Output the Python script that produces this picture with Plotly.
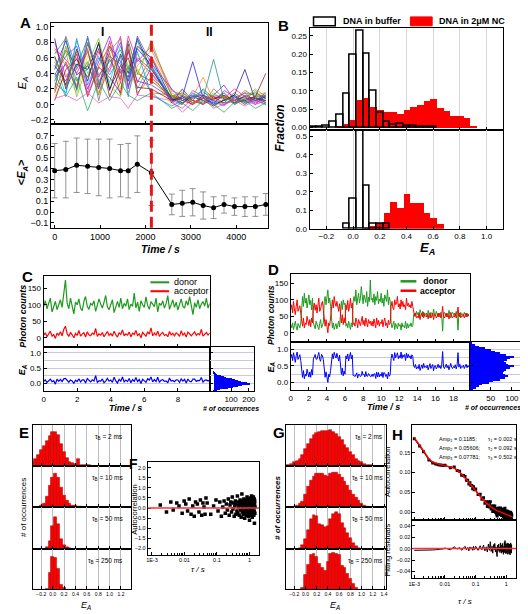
import numpy as np
import plotly.graph_objects as go

FONT = "Arial, Liberation Sans, sans-serif"
W, H = 528, 614

# ================= DATA =================
# ---- Panel A ----
A_TIME = [0, 245, 485, 725, 970, 1210, 1450, 1620, 1820, 2130,
          2580, 2810, 3040, 3270, 3500, 3730, 3960, 4190, 4420, 4650]
A_SWITCH_TIME = 2130
A_T01 = [0.62,0.25,0.71,0.30,0.80,0.18,0.65,0.40,0.85,0.45, 0.08,0.02,0.10,0.05,-0.02,0.06,0.12,0.03,0.08,0.05]
A_T02 = [0.15,0.55,0.22,0.78,0.35,0.66,0.12,0.70,0.28,0.62, 0.12,0.05,0.00,0.08,0.10,0.02,0.05,0.15,0.04,0.10]
A_T03 = [0.45,0.82,0.38,0.50,0.20,0.75,0.55,0.30,0.72,0.50, 0.05,0.10,0.55,0.08,0.02,0.12,0.00,0.07,0.10,0.02]
A_T04 = [0.80,0.35,0.60,0.15,0.68,0.42,0.88,0.22,0.58,0.40, 0.02,-0.05,0.08,0.12,0.04,-0.02,0.10,0.05,0.00,0.12]
A_T05 = [0.30,0.70,0.48,0.85,0.25,0.58,0.32,0.82,0.40,0.30, 0.10,0.15,0.05,0.20,0.08,0.12,0.05,0.10,0.15,0.08]
A_T06 = [0.55,0.12,0.82,0.40,0.62,0.28,0.75,0.50,0.20,0.55, 0.04,0.08,0.12,0.00,0.15,0.05,0.02,0.08,0.05,0.00]
A_T07 = [0.10,0.40,0.15,0.62,0.45,0.80,0.20,0.55,0.65,0.35, 0.00,0.12,0.03,0.10,-0.05,0.08,0.15,0.02,0.10,0.06]
A_T08 = [0.70,0.50,0.25,0.70,0.15,0.45,0.62,0.15,0.50,0.70, 0.15,0.05,0.10,0.35,0.05,0.10,0.08,0.00,0.12,0.15]
A_T09 = [0.38,0.62,0.75,0.20,0.55,0.88,0.40,0.68,0.30,0.25, 0.08,0.00,0.15,0.05,0.12,0.25,0.05,0.10,0.02,0.08]
A_T10 = [0.85,0.20,0.52,0.45,0.78,0.20,0.50,0.35,0.75,0.60, 0.06,0.10,0.02,0.08,0.00,0.05,0.12,0.45,0.05,0.10]
A_T11 = [0.22,0.75,0.30,0.55,0.12,0.68,0.85,0.25,0.45,0.15, 0.12,0.02,0.08,0.15,0.10,0.00,0.06,0.05,0.18,0.02]
A_T12 = [0.50,0.30,0.65,0.10,0.48,0.35,0.15,0.78,0.12,0.48, 0.02,0.20,0.05,0.00,0.08,0.10,0.02,0.12,0.05,0.12]
A_T13 = [0.65,0.85,0.18,0.80,0.38,0.55,0.70,0.45,0.82,0.40, 0.10,0.05,0.12,0.08,0.58,0.05,0.10,0.00,0.08,0.05]
A_T14 = [0.05,0.45,0.58,0.35,0.72,0.10,0.45,0.60,0.22,0.20, 0.05,0.08,0.00,0.12,0.06,0.15,0.02,0.05,0.10,0.40]
A_T15 = [0.72,0.58,0.40,0.68,0.22,0.82,0.28,0.88,0.55,0.75, 0.18,0.12,0.05,0.02,0.10,0.08,0.20,0.10,0.00,0.05]
A_T16 = [0.28,0.15,0.85,0.25,0.60,0.38,0.62,0.10,0.68,0.12, -0.02,0.05,0.10,0.18,0.02,0.00,0.08,0.15,0.12,0.08]
A_T17 = [0.48,0.68,0.10,0.52,0.85,0.25,0.10,0.50,0.38,0.82, 0.10,0.18,0.02,0.05,0.12,0.10,0.00,0.08,0.20,0.10]
A_T18 = [0.18,0.88,0.45,0.72,0.05,0.62,0.52,0.30,0.60,0.45, 0.05,0.00,0.18,0.10,0.05,0.02,0.15,0.05,0.08,0.00]
A_T19 = [0.60,0.22,0.68,0.12,0.50,0.75,0.35,0.72,0.15,0.35, 0.08,0.12,0.05,0.00,0.20,0.08,0.05,0.18,0.10,0.12]
A_T20 = [0.35,0.52,0.20,0.88,0.30,0.48,0.80,0.20,0.88,0.52, 0.20,0.05,0.10,0.12,0.00,0.18,0.10,0.02,0.05,0.15]
A_T21 = [0.08,0.12,0.05,0.15,0.02,0.10,0.08,-0.05,0.12,0.10, 0.05,-0.10,0.02,0.08,-0.05,0.00,0.05,-0.02,0.05,0.00]
A_T22 = [0.40,0.10,0.35,-0.08,0.30,0.05,0.28,0.12,0.05,0.15, -0.05,0.02,-0.08,0.05,0.00,-0.10,0.03,0.05,-0.05,0.02]
A_MEAN = [0.38,0.39,0.43,0.42,0.41,0.40,0.38,0.38,0.44,0.36,
          0.07,0.08,0.09,0.06,0.04,0.07,0.05,0.05,0.05,0.07]
A_SD = [0.25,0.26,0.25,0.25,0.26,0.27,0.24,0.25,0.26,0.30,
        0.095,0.12,0.125,0.125,0.10,0.08,0.08,0.09,0.09,0.10]

# ---- Panel B ----
B_BUF_X1 = [-0.3,-0.25,-0.2,-0.15,-0.1,-0.05,0.0,0.05,0.1,0.15,0.2,0.25,0.3,0.35,0.4,0.45,0.5,0.55,0.6]
B_BUF_Y1 = [0.001,0.002,0.004,0.015,0.035,0.093,0.198,0.265,0.20,0.10,0.04,0.015,0.008,0.01,0.006,0.004,0.002,0.001,0.001]
B_NC_X1 = [-0.1,-0.05,0.0,0.05,0.1,0.15,0.2,0.25,0.3,0.35,0.4,0.45,0.5,0.55,0.6,0.65,0.7,0.75,0.8,0.85,0.9]
B_NC_Y1 = [0.003,0.01,0.02,0.076,0.082,0.058,0.049,0.043,0.043,0.037,0.049,0.056,0.063,0.074,0.079,0.054,0.046,0.031,0.031,0.027,0.004]
B_BUF_X2 = [-0.05,0.0,0.05,0.1,0.15,0.2,0.25]
B_BUF_Y2 = [0.025,0.16,0.53,0.235,0.025,0.025,0.025]
B_NC_X2 = [0.1,0.15,0.2,0.25,0.3,0.35,0.4,0.45,0.5,0.55,0.6,0.65]
B_NC_Y2 = [0.005,0.015,0.03,0.088,0.145,0.114,0.19,0.14,0.14,0.088,0.058,0.026]

# ---- Panel C ----
C_DONOR = [95,112,88,104,120,78,98,110,85,102, 115,92,140,175,105,88,120,96,72,108,
           100,118,90,82,110,125,95,86,104,99, 112,80,96,118,102,90,108,128,94,85,
           100,115,76,98,110,92,120,88,104,96, 118,85,102,95,135,90,108,80,112,100,
           92,124,98,86,110,102,94,120,78,105, 98,112,90,104,128,86,100,115,92,108,
           84,102,118,95,90,112,98,125,100,70, 106,92,115,88,102,110,96,120,90,104]
C_ACCEPTOR = [8,15,3,12,20,5,10,-2,14,8, 18,6,25,35,12,4,16,9,0,13,
              7,22,5,11,15,2,18,9,6,14, 10,28,4,12,8,16,3,11,19,7,
              13,5,20,9,2,15,10,24,6,12, 8,17,3,14,10,22,7,12,0,16,
              9,5,18,11,30,6,14,8,20,4, 12,16,7,10,3,19,9,13,6,15,
              11,4,21,8,14,2,17,10,6,12, 18,7,13,9,25,5,11,16,8,14]
C_HIST_E = [-0.25,-0.225,-0.2,-0.175,-0.15,-0.125,-0.1,-0.075,-0.05,-0.025,0.0,0.025,0.05,0.075,
            0.1,0.125,0.15,0.175,0.2,0.225,0.25,0.275,0.3,0.325,0.35,0.375,0.4]
C_HIST_N = [3,8,20,38,58,82,108,135,160,185,205,190,172,155,138,120,102,86,70,56,42,30,20,12,6,3,1]

# ---- Panel D ----
D_DONOR = [25,15,30,10,22,35,18,8,28,20, 15,30,95,110,80,120,90,105,75,100,
           115,85,98,70,105,30,20,12,35,25, 18,10,28,40,15,22,30,95,110,85,
           120,130,90,105,80,25,15,30,10,20, 28,12,22,35,18,80,95,70,100,85,
           90,20,28,15,35,22,10,30,18,95, 110,95,130,85,100,120,90,105,140,98,
           88,115,100,92,125,80,108,95,160,100, 105,92,118,85,110,98,125,88,102,95,
           120,90,105,80,115,100,95,130,85,108, 95,30,15,25,35,10,28,20,12,30,
           20,25,8,30,18,22,15,35,12,28, 15,25,20,30,18,22,55,60,50,65,
           55,62,48,70,58,52,65,45,60,55, 60,50,68,55,45,62,58,50,72,55,
           52,65,58,48,60,55,62,50,5,58, 62,55,48,60,52,68,55,45,58,62,
           55,60,50,65,52,8,58,48,62,55, 58,50,62,55,48,60,52,58]
D_ACCEPTOR = [70,85,60,95,72,55,80,100,65,78, 82,60,35,20,45,15,30,25,50,28,
              22,40,18,45,30,75,90,68,85,60, 80,105,65,72,88,95,70,35,20,40,
              15,0,30,22,45,85,100,75,110,90, 80,95,70,65,88,40,30,55,25,45,
              30,85,70,98,65,80,105,75,90,25, 30,20,45,35,15,40,28,22,35,50,
              25,38,20,45,30,18,40,28,35,22, 35,20,42,30,15,45,25,38,20,32,
              28,40,18,35,45,22,30,15,38,25, 30,80,95,75,70,100,85,90,110,78,
              88,72,100,80,95,78,85,70,105,82, 90,78,85,75,95,80,55,50,60,45,
              50,45,58,40,55,60,48,62,50,52, 48,55,42,58,60,45,52,60,40,55,
              55,45,50,60,48,58,45,55,80,50, 45,52,60,48,55,42,55,62,50,45,
              52,48,58,45,55,78,50,60,45,52, 50,55,45,52,60,48,55,50]
D_HIST_E = [-0.2,-0.15,-0.1,-0.05,0.0,0.05,0.1,0.15,0.2,0.25,0.3,0.35,0.4,0.45,0.5,
            0.55,0.6,0.65,0.7,0.75,0.8,0.85,0.9,0.95,1.0,1.05,1.1,1.15,1.2]
D_HIST_N = [8,15,22,28,45,55,72,84,90,82,78,80,85,95,105,90,85,80,88,95,105,85,72,60,50,35,22,12,5]

# ---- Panel E ----
E_X = [-0.35,-0.3,-0.25,-0.2,-0.15,-0.1,-0.05,0.0,0.05,0.1,0.15,0.2,0.25,0.3,
       0.35,0.4,0.45,0.5,0.55,0.6,0.65,0.7,0.75,0.8,0.85,0.9,0.95,1.0]
E_2MS = [0.12,0.18,0.28,0.40,0.50,0.62,0.74,0.82,0.84,0.76,0.55,0.34,0.20,0.12,
         0.08,0.06,0.18,0.05,0.04,0.035,0.03,0.02,0.02,0.015,0.01,0.01,0.005,0.005]
E_10MS = [0,0,0,0.04,0.10,0.25,0.52,0.74,0.84,0.72,0.48,0.28,0.16,0.09,
          0.05,0.03,0.02,0.01,0,0,0,0,0,0,0,0,0,0]
E_50MS = [0,0,0,0,0,0.03,0.18,0.55,0.76,0.60,0.22,0.08,0.03,0.01,
          0,0,0,0,0,0,0,0,0,0,0,0,0,0]
E_250MS = [0,0,0,0,0,0.02,0.40,0.80,0.78,0.50,0.12,0.03,0,0,
           0,0,0,0,0,0,0,0,0,0,0,0,0,0]
TAU_LABELS = ["2 ms", "10 ms", "50 ms", "250 ms"]

# ---- Panel F ----
F_TAU_SPARSE = [0.0018,0.0028,0.0038,0.0045,0.0058,0.0068,0.0085,0.0098,0.011,0.0125,0.014,0.016,
                0.018,0.02,0.022,0.025,0.028,0.031,0.034,0.037,0.04,0.043,0.046]
F_VAL_SPARSE = [0.15,-0.2,0.3,-0.1,0.25,0.1,-0.25,0.35,0.2,-0.15,0.45,-0.3,
                0.1,-0.4,0.3,0.2,-0.2,0.4,-0.35,0.25,0.05,-0.3,0.5]
F_VAL_DENSE = [0.25,-0.3,0.1,0.4,-0.15,0.3,-0.4,0.05,0.35,-0.25,
               0.2,-0.1,0.45,-0.35,0.15,0.3,-0.2,0.55,-0.05,0.25,
               -0.4,0.1,0.35,-0.3,0.2,-0.15,0.6,-0.25,0.05,0.3,
               -0.35,0.15,0.4,-0.1,0.25,-0.45,0.1,0.7,-0.2,0.35,
               0.0,-0.3,0.2,0.45,-0.15,0.3,-0.5,0.15,0.35,-0.25,
               0.05,0.4,-0.35,0.2,-0.1,0.55,-0.3,0.1,0.3,-0.2,
               0.45,-0.4,0.15,0.25,-0.15,0.35,-0.6,0.05,0.4,-0.25,
               0.2,-0.05,0.5,-0.35,0.1,0.3,-0.2,0.6,-0.3,0.15,
               0.35,-0.45,0.05,0.25,-0.1,0.4,-0.3,0.2,0.55,-0.2,
               0.1,-0.35,0.3,-0.15,0.45,-0.75,0.2,0.35,-0.25,0.05]

# ---- Panel G ----
G_X = [-0.35,-0.3,-0.25,-0.2,-0.15,-0.1,-0.05,0.0,0.05,0.1,0.15,0.2,0.25,0.3,0.35,0.4,
       0.45,0.5,0.55,0.6,0.65,0.7,0.75,0.8,0.85,0.9,0.95,1.0,1.05,1.1,1.15,1.2]
G_2MS = [0.03,0.05,0.07,0.10,0.14,0.19,0.28,0.42,0.55,0.66,0.76,0.81,0.84,0.85,0.85,0.86,
         0.87,0.84,0.78,0.72,0.63,0.53,0.44,0.36,0.27,0.19,0.14,0.10,0.07,0.04,0.03,0.02]
G_10MS = [0,0,0,0.02,0.04,0.08,0.14,0.30,0.50,0.65,0.76,0.82,0.84,0.82,0.78,0.76,
          0.82,0.86,0.86,0.80,0.72,0.62,0.52,0.42,0.32,0.24,0.16,0.10,0.05,0.02,0,0]
G_50MS = [0,0,0,0,0,0.02,0.08,0.22,0.45,0.70,0.80,0.78,0.60,0.56,0.52,0.54,
          0.70,0.84,0.88,0.84,0.62,0.50,0.38,0.26,0.14,0.06,0.02,0,0,0,0,0]
G_250MS = [0,0,0,0,0,0,0.05,0.35,0.60,0.86,0.88,0.80,0.62,0.52,0.45,0.68,
           0.88,0.90,0.88,0.85,0.58,0.52,0.38,0.26,0.14,0.05,0,0,0,0,0,0]

# ---- Panel H ----
H_TAU_EARLY = [0.001,0.0015,0.002,0.003,0.004,0.005,0.006,0.007,0.008,0.009]
H_FIT_EARLY = [0.188,0.170,0.155,0.134,0.126,0.123,0.121,0.120,0.119,0.118]
H_RES_EARLY = [-0.003,-0.0032,-0.003,-0.0027,-0.0024,-0.002,-0.0016,-0.0012,-0.0008,-0.0004]
H_FIT_MID = [0.117,0.114,0.111,0.106,0.101,0.096,0.091,0.086,0.082,0.078,
             0.075,0.071,0.068,0.065,0.062,0.060,0.058,0.056]
H_RES_MID = [0.001,-0.002,0.003,-0.001,0.002,-0.003,0.001,0.004,-0.002,0.002,
             -0.004,0.003,-0.001,0.002,-0.003,0.004,-0.002,0.001]
H_FIT_LATE = [0.054,0.047,0.040,0.034,0.030,0.026,0.023,0.020,0.018,0.016,
              0.014,0.0125,0.011,0.0095,0.0082,0.0072,0.0064,0.0057,0.0050,0.0043,
              0.0037,0.0031,0.0026,0.0021,0.0016,0.0011,0.0006,0.0002,-0.0002,-0.0006,
              -0.0009,-0.0013,-0.0016,-0.0020,-0.0023,-0.0027,-0.0030,-0.0034,-0.0037,-0.0041,
              -0.0044,-0.0048,-0.0051,-0.0055,-0.0058,-0.0062,-0.0065,-0.0069,-0.0071,-0.0073,
              -0.0076,-0.0078,-0.0080,-0.0082,-0.0084,-0.0087,-0.0089,-0.0091,-0.0093,-0.0095,
              -0.0098,-0.0100,-0.0102,-0.0104,-0.0106,-0.0109,-0.0111,-0.0113,-0.0115,-0.0117,
              -0.0119]
H_RES_LATE = [0.004,-0.003,0.005,-0.002,0.006,-0.004,0.003,-0.006,0.008,-0.003,
              0.012,-0.005,0.004,-0.008,0.007,-0.002,0.009,-0.006,0.003,-0.009,
              -0.014,0.006,-0.003,0.008,-0.005,0.002,-0.007,0.010,-0.004,0.006,
              -0.008,0.003,0.009,-0.006,0.004,-0.010,0.007,-0.002,0.011,-0.007,
              0.014,-0.004,0.005,-0.009,0.008,-0.003,0.006,-0.008,0.010,-0.005,
              0.003,-0.010,0.007,-0.002,0.009,-0.006,0.004,-0.009,0.008,-0.003,
              0.006,-0.011,0.005,-0.004,0.010,-0.007,0.003,-0.008,0.007,-0.005,
              0.004]
H_PARAMS = [("Amp<sub>1</sub> = 0.1185;", "τ<sub>1</sub> = 0.002 s"),
            ("Amp<sub>2</sub> = 0.05606;", "τ<sub>2</sub> = 0.092 s"),
            ("Amp<sub>3</sub> = 0.07781;", "τ<sub>3</sub> = 0.502 s")]

# ================= FIGURE =================
def X(px): return px / W
def Y(py): return 1 - py / H

fig = go.Figure()
layout = dict(width=W, height=H, margin=dict(l=0, r=0, t=0, b=0),
              paper_bgcolor="white", plot_bgcolor="white", showlegend=False,
              font=dict(family=FONT, size=8, color="black"),
              barmode="overlay", bargap=0)
ann, shapes = [], []

def sfx(n): return "" if n == 1 else str(n)

def axes(n, xpx, ypx, xkw=None, ykw=None):
    base = dict(showline=True, mirror=True, linecolor="black", linewidth=1,
                ticks="inside", ticklen=3, tickwidth=1, tickcolor="black",
                zeroline=False, showgrid=False)
    xa = dict(base, domain=[X(xpx[0]), X(xpx[1])], anchor="y" + sfx(n))
    ya = dict(base, domain=[Y(ypx[1]), Y(ypx[0])], anchor="x" + sfx(n))
    xa.update(xkw or {}); ya.update(ykw or {})
    layout["xaxis" + sfx(n)] = xa
    layout["yaxis" + sfx(n)] = ya

def ref(n): return dict(xaxis="x" + sfx(n), yaxis="y" + sfx(n))

def text(px, py, s, size=9, bold=False, italic=False, angle=0, xanchor="center", color="black"):
    if italic: s = "<i>" + s + "</i>"
    if bold: s = "<b>" + s + "</b>"
    ann.append(dict(x=X(px), y=Y(py), xref="paper", yref="paper", text=s, showarrow=False,
                    textangle=angle, xanchor=xanchor, yanchor="middle",
                    font=dict(size=size, color=color, family=FONT)))

EA = "<i>E</i><sub><i>A</i></sub>"

# ---- A ----
A_TRACES = [A_T01, A_T02, A_T03, A_T04, A_T05, A_T06, A_T07, A_T08, A_T09, A_T10, A_T11,
            A_T12, A_T13, A_T14, A_T15, A_T16, A_T17, A_T18, A_T19, A_T20, A_T21, A_T22]
A_COLORS = ["#000000", "#FF0000", "#0000FF", "#FF00FF", "#008000", "#00C8C8", "#E0D000", "#FF8000",
            "#8000FF", "#000080", "#808000", "#800080", "#008080", "#800000", "#FF0080", "#0080FF",
            "#60C000", "#606060", "#C06000", "#4040FF", "#FF40C0", "#00A060"]
for tr, col in zip(A_TRACES, A_COLORS):
    fig.add_trace(go.Scatter(x=A_TIME, y=tr, mode="lines", line=dict(color=col, width=0.8),
                             opacity=0.85, **ref(1)))
fig.add_trace(go.Scatter(x=A_TIME, y=A_MEAN, mode="lines+markers",
                         line=dict(color="black", width=1), marker=dict(color="black", size=5),
                         error_y=dict(type="data", array=A_SD, color="#777777", thickness=0.8, width=3),
                         **ref(2)))
axes(1, (39.5, 259), (14, 116),
     dict(range=[-80, 4700], dtick=1000, showticklabels=False),
     dict(range=[-0.25, 1.05], tick0=0, dtick=0.2, tickformat=".1f", tickfont=dict(size=9)))
axes(2, (39.5, 259), (116, 221),
     dict(range=[-80, 4700], dtick=1000, tickfont=dict(size=9)),
     dict(range=[-0.145, 0.81], tickvals=[-0.1, 0, 0.1, 0.2, 0.3, 0.4, 0.5, 0.6, 0.7],
          tickformat=".1f", tickfont=dict(size=9)))
shapes.append(dict(type="line", xref="x", yref="paper", x0=A_SWITCH_TIME, x1=A_SWITCH_TIME,
                   y0=Y(221), y1=Y(14), line=dict(color="#E8141B", width=3, dash="11px,5px")))
text(11, 75, EA, size=11, angle=-90)
text(11, 165, "&lt;" + EA + "&gt;", size=11, bold=True, angle=-90)
text(150, 242, "Time / s", size=10.5, bold=True, italic=True)
text(92, 23, "I", size=12, bold=True)
text(200, 23, "II", size=12, bold=True)

# ---- B ----
fig.add_trace(go.Bar(x=B_NC_X1, y=B_NC_Y1, width=0.05, marker=dict(color="#FF0000", line=dict(width=0)), **ref(3)))
fig.add_trace(go.Bar(x=B_BUF_X1, y=B_BUF_Y1, width=0.05,
                     marker=dict(color="rgba(0,0,0,0)", line=dict(color="black", width=1.5)), **ref(3)))
fig.add_trace(go.Bar(x=B_NC_X2, y=B_NC_Y2, width=0.05, marker=dict(color="#FF0000", line=dict(width=0)), **ref(4)))
fig.add_trace(go.Bar(x=B_BUF_X2, y=B_BUF_Y2, width=0.05,
                     marker=dict(color="rgba(0,0,0,0)", line=dict(color="black", width=1.5)), **ref(4)))
bx = dict(range=[-0.326, 1.126], tick0=0, dtick=0.2, showgrid=True, gridcolor="#d6d6d6", gridwidth=0.8)
axes(3, (301, 497), (19, 122), dict(bx, showticklabels=False),
     dict(range=[-0.006, 0.272], tickvals=[0, 0.05, 0.1, 0.15, 0.2, 0.25], tickformat=".2f",
          tickfont=dict(size=8)))
axes(4, (301, 497), (122, 222), dict(bx, tickformat=".1f", tickfont=dict(size=8)),
     dict(range=[0, 0.535], tickvals=[0, 0.1, 0.2, 0.3, 0.4, 0.5], tickformat=".1f", tickfont=dict(size=8)))
shapes.append(dict(type="rect", xref="paper", yref="paper", x0=X(305), x1=X(327), y0=Y(17), y1=Y(8),
                   line=dict(color="black", width=1.5), fillcolor="white"))
shapes.append(dict(type="rect", xref="paper", yref="paper", x0=X(403), x1=X(425), y0=Y(17), y1=Y(8),
                   line=dict(color="#FF0000", width=1), fillcolor="#FF0000"))
text(333, 12.5, "DNA in buffer", size=9, bold=True, xanchor="left")
text(430, 12.5, "DNA in 2μM NC", size=9, bold=True, xanchor="left")
text(271, 120, "Fraction", size=12, bold=True, italic=True, angle=-90)
text(420, 242, "<b>" + EA + "</b>", size=13)

# ---- C ----
C_T = np.arange(len(C_DONOR)) * 0.1
c_d = np.array(C_DONOR, float); c_a = np.array(C_ACCEPTOR, float)
C_E = c_a / (c_a + c_d)
fig.add_trace(go.Scatter(x=C_T, y=C_DONOR, mode="lines", line=dict(color="#1E9A1E", width=1.2), **ref(5)))
fig.add_trace(go.Scatter(x=C_T, y=C_ACCEPTOR, mode="lines", line=dict(color="#FF0000", width=1.2), **ref(5)))
fig.add_trace(go.Scatter(x=C_T, y=C_E, mode="lines", line=dict(color="#0000FF", width=1.2), **ref(6)))
fig.add_trace(go.Bar(x=C_HIST_N, y=C_HIST_E, orientation="h", width=0.02,
                     marker=dict(color="#0000FF", line=dict(width=0)), **ref(7)))
egrid = dict(showgrid=True, gridcolor="#c9c9e0", gridwidth=0.8,
             minor=dict(dtick=0.25, tick0=0, showgrid=True, gridcolor="#c9c9e0", gridwidth=0.8))
axes(5, (32, 200), (270, 341), dict(range=[0, 9.9], dtick=2, showticklabels=False),
     dict(range=[-27, 186], tickvals=[0, 50, 100, 150], tickfont=dict(size=8)))
axes(6, (32, 200), (341, 386), dict(range=[0, 9.9], tick0=0, dtick=2, tickfont=dict(size=8)),
     dict(egrid, range=[-0.25, 1.2], tick0=0, dtick=0.5, tickformat=".1f", tickfont=dict(size=8)))
axes(7, (200, 245), (341, 386), dict(range=[-20, 230], tickvals=[100, 200], tickfont=dict(size=8)),
     dict(egrid, range=[-0.25, 1.2], tick0=0, dtick=0.5, showticklabels=False))
shapes.append(dict(type="line", xref="paper", yref="paper", x0=X(140), x1=X(159), y0=Y(276), y1=Y(276),
                   line=dict(color="#1E9A1E", width=2)))
shapes.append(dict(type="line", xref="paper", yref="paper", x0=X(140), x1=X(159), y0=Y(285), y1=Y(285),
                   line=dict(color="#FF0000", width=2)))
text(162, 276, "donor", size=9, xanchor="left")
text(162, 285, "acceptor", size=9, xanchor="left")
text(11, 310, "Photon counts", size=9, bold=True, italic=True, angle=-90)
text(11, 364, "<b>" + EA + "</b>", size=9, angle=-90)
text(115, 403, "Time / s", size=9, bold=True, italic=True)
text(222, 403, "# of occurrences", size=7, bold=True, italic=True)

# ---- D ----
D_T = np.arange(len(D_DONOR)) * 0.1
d_d = np.array(D_DONOR, float); d_a = np.array(D_ACCEPTOR, float)
D_E = d_a / (d_a + d_d)
fig.add_trace(go.Scatter(x=D_T, y=D_DONOR, mode="lines", line=dict(color="#1E9A1E", width=1), **ref(8)))
fig.add_trace(go.Scatter(x=D_T, y=D_ACCEPTOR, mode="lines", line=dict(color="#FF0000", width=1), **ref(8)))
fig.add_trace(go.Scatter(x=D_T, y=D_E, mode="lines", line=dict(color="#0000FF", width=1), **ref(9)))
fig.add_trace(go.Bar(x=D_HIST_N, y=D_HIST_E, orientation="h", width=0.04,
                     marker=dict(color="#0000FF", line=dict(width=0)), **ref(10)))
axes(8, (282, 463), (268, 336), dict(range=[0, 19.8], dtick=2, showticklabels=False),
     dict(range=[-27, 177], tickvals=[0, 50, 100, 150], tickfont=dict(size=8)))
axes(9, (282, 463), (336, 385), dict(range=[0, 19.8], tick0=0, dtick=2, tickfont=dict(size=8)),
     dict(egrid, range=[-0.24, 1.24], tick0=0, dtick=0.5, tickformat=".1f", tickfont=dict(size=8)))
axes(10, (463, 515), (336, 385), dict(range=[0, 122], tickvals=[50, 100], tickfont=dict(size=8)),
     dict(egrid, range=[-0.24, 1.24], tick0=0, dtick=0.5, showticklabels=False))
shapes.append(dict(type="line", xref="paper", yref="paper", x0=X(393), x1=X(409), y0=Y(275), y1=Y(275),
                   line=dict(color="#1E9A1E", width=2.5)))
shapes.append(dict(type="line", xref="paper", yref="paper", x0=X(393), x1=X(409), y0=Y(284.5), y1=Y(284.5),
                   line=dict(color="#FF0000", width=2.5)))
text(412, 275, " donor", size=8.5, bold=True, xanchor="left")
text(411, 284.5, "acceptor", size=8.5, bold=True, xanchor="left")
text(262, 309, "Photon counts", size=8.5, bold=True, italic=True, angle=-90)
text(262, 362, "<b>" + EA + "</b>", size=9, angle=-90)
text(376, 402, "Time / s", size=9, bold=True, italic=True)
text(487, 402, "# of occurrences", size=7, bold=True, italic=True)

# ---- E & G ----
ROWS = [(420, 462), (462, 503), (503, 545), (545, 586)]
for k, (vals, lab) in enumerate(zip([E_2MS, E_10MS, E_50MS, E_250MS], TAU_LABELS)):
    n = 11 + k
    fig.add_trace(go.Bar(x=E_X, y=vals, width=0.05,
                         marker=dict(color="#FF0000", line=dict(color="#A00000", width=0.5)), **ref(n)))
    axes(n, (21, 120), ROWS[k],
         dict(range=[-0.35, 1.37], tick0=0, dtick=0.2, showgrid=True, gridcolor="#bdbdbd", gridwidth=0.6,
              showticklabels=(k == 3), tickformat=".1f", tickangle=0, tickfont=dict(size=5)),
         dict(range=[0, 1.0], showticklabels=False, ticks=""))
    text(114, ROWS[k][0] + 12, "τ<sub>B</sub> = " + lab, size=6.5, xanchor="right")
for k, (vals, lab) in enumerate(zip([G_2MS, G_10MS, G_50MS, G_250MS], TAU_LABELS)):
    n = 16 + k
    fig.add_trace(go.Bar(x=G_X, y=vals, width=0.05,
                         marker=dict(color="#FF0000", line=dict(color="#A00000", width=0.5)), **ref(n)))
    axes(n, (277, 378), ROWS[k],
         dict(range=[-0.35, 1.43], tick0=0, dtick=0.2, showgrid=True, gridcolor="#bdbdbd", gridwidth=0.6,
              showticklabels=(k == 3), tickformat=".1f", tickangle=0, tickfont=dict(size=5)),
         dict(range=[0, 1.0], showticklabels=False, ticks=""))
    text(377, ROWS[k][0] + 12, "τ<sub>B</sub> = " + lab, size=6.5, xanchor="right")
text(11, 503, "# of occurrences", size=8, angle=-90)
text(75, 602, EA, size=9)
text(268, 503, "# of occurrences", size=8, bold=True, italic=True, angle=-90)
text(327, 602, EA, size=9)

# ---- F ----
F_TAU_DENSE = [round(0.05 + 0.0145 * i, 4) for i in range(len(F_VAL_DENSE))]
fig.add_trace(go.Scatter(x=F_TAU_SPARSE + F_TAU_DENSE, y=F_VAL_SPARSE + F_VAL_DENSE, mode="markers",
                         marker=dict(color="black", size=3.5, symbol="square"), **ref(15)))
minor_log = [k * 10.0 ** e for e in (-3, -2, -1) for k in range(2, 10)] + [2.0]
logx = dict(type="log", tickvals=[0.001, 0.01, 0.1, 1], ticktext=["1E-3", "0.01", "0.1", "1"],
            tickfont=dict(size=5.5), minor=dict(tickvals=minor_log, ticks="inside", ticklen=2))
axes(15, (137.3, 250), (457, 551), dict(logx, range=[-3.13, 0.30]),
     dict(range=[-2.3, 2.3], tick0=0, dtick=0.5, tickformat=".1f", tickfont=dict(size=5.5)))
shapes.append(dict(type="line", xref="x15 domain", yref="y15", x0=0, x1=1, y0=0, y1=0,
                   line=dict(color="#FF3030", width=1.5)))
text(123, 506, "Autocorrelation", size=7.5, angle=-90)
text(188, 566, "τ / s", size=8, italic=True)

# ---- H ----
H_TAU_MID = [round(0.01 + 0.005 * i, 3) for i in range(len(H_FIT_MID))]
H_TAU_LATE = [round(0.10 + 0.02 * i, 2) for i in range(len(H_FIT_LATE))]
H_TAU = H_TAU_EARLY + H_TAU_MID + H_TAU_LATE
H_FIT = H_FIT_EARLY + H_FIT_MID + H_FIT_LATE
H_RES = H_RES_EARLY + H_RES_MID + H_RES_LATE
H_DATA = [f + r for f, r in zip(H_FIT, H_RES)]
fig.add_trace(go.Scatter(x=H_TAU, y=H_DATA, mode="lines+markers", line=dict(color="black", width=1),
                         marker=dict(color="black", size=3, symbol="square"), **ref(20)))
fig.add_trace(go.Scatter(x=H_TAU, y=H_FIT, mode="lines", line=dict(color="#FF0000", width=1.5), **ref(20)))
fig.add_trace(go.Scatter(x=H_TAU, y=H_RES, mode="lines", line=dict(color="black", width=1), **ref(21)))
axes(20, (405, 510), (420, 516), dict(logx, range=[-3.06, 0.32], showticklabels=False),
     dict(range=[-0.02, 0.22], tickvals=[0, 0.05, 0.1, 0.15], tickformat=".2f", tickfont=dict(size=5.5)))
axes(21, (405, 510), (516, 575), dict(logx, range=[-3.06, 0.32]),
     dict(range=[-0.052, 0.050], tickvals=[-0.04, -0.02, 0, 0.02, 0.04], tickformat=".2f",
          tickfont=dict(size=5.5)))
shapes.append(dict(type="line", xref="x21 domain", yref="y21", x0=0, x1=1, y0=0, y1=0,
                   line=dict(color="#FF3030", width=1.5)))
for i, (a, t) in enumerate(H_PARAMS):
    text(430, 435 + 9 * i, a, size=5.5, xanchor="left")
    text(479, 435 + 9 * i, t, size=5.5, xanchor="left")
text(380, 468, "Autocorrelation", size=7.5, angle=-90)
text(380, 546, "Fitting residuals", size=7.5, angle=-90)
text(458, 598, "τ / s", size=8, italic=True)

# ---- panel letters ----
for lab, px, py in [("A", 14, 14), ("B", 275, 17), ("C", 16, 270), ("D", 265, 263),
                    ("E", 12, 428), ("F", 123, 459), ("G", 270, 428), ("H", 390, 430)]:
    text(px, py, lab, size=14 if lab == "F" else 15, bold=True)

layout["annotations"] = ann
layout["shapes"] = shapes
fig.update_layout(**layout)
fig.write_html("out.html")
